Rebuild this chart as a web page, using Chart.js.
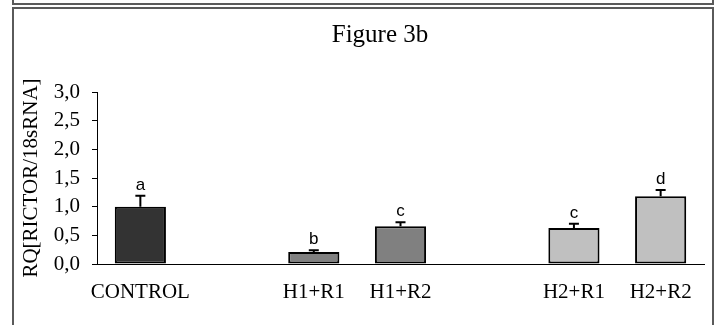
<!DOCTYPE html>
<html>
<head>
<meta charset="utf-8">
<script src="https://cdn.jsdelivr.net/npm/chart.js@4.4.1/dist/chart.umd.min.js"></script>
<style>
  body { margin: 0; background: #fff; }
  canvas { display: block; }
</style>
</head>
<body>
<canvas id="fig3b" width="719" height="325"></canvas>
<script>
// Data (empty slots keep the gaps between groups)
const categories = ['CONTROL', '', 'H1+R1', 'H1+R2', '', 'H2+R1', 'H2+R2'];
const values = [1.0, null, 0.21, 0.66, null, 0.63, 1.18];
const errors = [0.19, null, 0.03, 0.07, null, 0.07, 0.11];
const letters = ['a', '', 'b', 'c', '', 'c', 'd'];
const yTicks = [0, 0.5, 1, 1.5, 2, 2.5, 3];

const serif = '"Liberation Serif", "Times New Roman", serif';

// frame around the figure + the title text
const framePlugin = {
    id: 'frame',
    beforeDraw(chart) {
        const ctx = chart.ctx;
        ctx.save();
        ctx.fillStyle = '#fff';
        ctx.fillRect(0, 0, chart.width, chart.height);
        ctx.strokeStyle = '#5a5a5a';
        ctx.lineWidth = 2;
        ctx.beginPath();
        // bottom of the panel above
        ctx.moveTo(13, 0); ctx.lineTo(13, 4); ctx.lineTo(713, 4); ctx.lineTo(713, 0);
        // this panel
        ctx.moveTo(13, 325); ctx.lineTo(13, 8); ctx.lineTo(713, 8); ctx.lineTo(713, 325);
        ctx.stroke();
        ctx.fillStyle = '#000';
        ctx.font = '25px ' + serif;
        ctx.textAlign = 'center';
        ctx.textBaseline = 'alphabetic';
        ctx.fillText('Figure 3b', 380, 42);
        ctx.restore();
    }
};

// upper error bars and significance letters
const errorPlugin = {
    id: 'errors',
    afterDatasetsDraw(chart) {
        const ctx = chart.ctx;
        const meta = chart.getDatasetMeta(0);
        const y = chart.scales.y;
        ctx.save();
        ctx.strokeStyle = '#000';
        ctx.lineWidth = 2;
        ctx.fillStyle = '#000';
        ctx.font = '17px "Liberation Sans", Arial, sans-serif';
        ctx.textAlign = 'center';
        ctx.textBaseline = 'alphabetic';
        meta.data.forEach((bar, i) => {
            if (values[i] == null) return;
            const top = y.getPixelForValue(values[i] + errors[i]);
            ctx.beginPath();
            ctx.moveTo(bar.x, bar.y);
            ctx.lineTo(bar.x, top);
            ctx.moveTo(bar.x - 5, top);
            ctx.lineTo(bar.x + 5, top);
            ctx.stroke();
            ctx.fillText(letters[i], bar.x, top - 6);
        });
        ctx.restore();
    }
};

new Chart(document.getElementById('fig3b'), {
    type: 'bar',
    data: {
        labels: categories,
        datasets: [{
            data: values,
            backgroundColor: ['#333333', null, '#808080', '#808080', null, '#c0c0c0', '#c0c0c0'],
            borderColor: '#000',
            borderWidth: 2,
            borderSkipped: false,
            barPercentage: 0.59,
            categoryPercentage: 1
        }]
    },
    options: {
        responsive: false,
        animation: false,
        layout: { padding: { left: 0, right: 15, top: 92, bottom: 21 } },
        plugins: {
            legend: { display: false },
            tooltip: { enabled: false }
        },
        scales: {
            x: {
                grid: { display: false },
                border: { display: true, color: '#000', width: 1 },
                ticks: {
                    color: '#000',
                    padding: 8,
                    maxRotation: 0,
                    autoSkip: false,
                    font: { family: serif, size: 21 }
                },
                afterFit(scale) { scale.height = 40; }
            },
            y: {
                min: 0,
                max: 3,
                afterBuildTicks(scale) { scale.ticks = yTicks.map(v => ({ value: v })); },
                grid: { drawOnChartArea: false, drawTicks: true, tickLength: 5, color: '#000' },
                border: { display: true, color: '#000', width: 1 },
                ticks: {
                    color: '#000',
                    padding: 12,
                    font: { family: serif, size: 21 },
                    callback: v => v.toFixed(1).replace('.', ',')
                },
                title: {
                    display: true,
                    text: 'RQ[RICTOR/18sRNA]',
                    color: '#000',
                    padding: { top: 19, bottom: 0 },
                    font: { family: serif, size: 21 }
                },
                afterFit(scale) { scale.width = 97; }
            }
        }
    },
    plugins: [framePlugin, errorPlugin]
});
</script>
</body>
</html>
